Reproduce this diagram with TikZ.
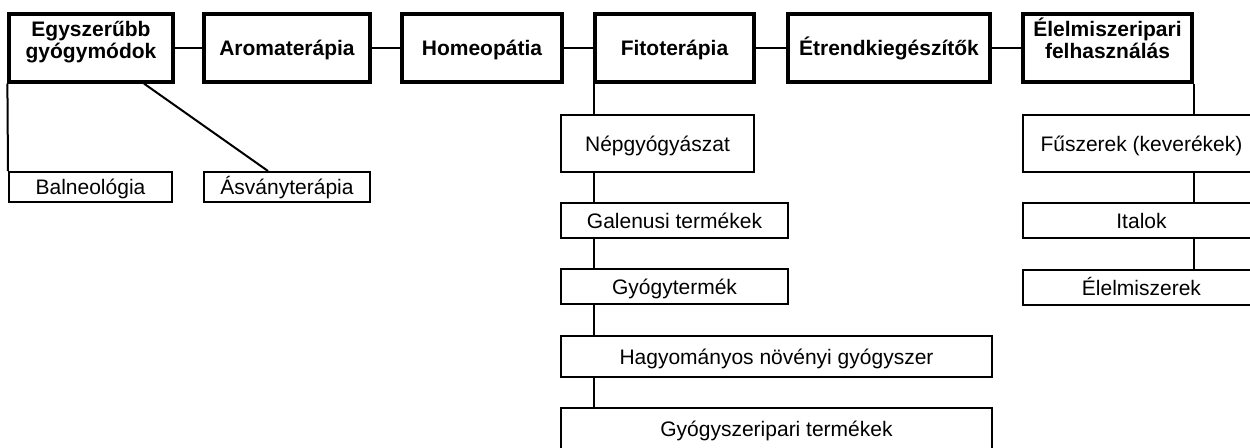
\documentclass[tikz,border=0pt]{standalone}
\usepackage{fontspec}
\setmainfont{Liberation Sans}
\usepackage{tikz}
\usetikzlibrary{positioning,calc}
\tikzset{>=latex}

\begin{document}
\begin{tikzpicture}[x=0.5pt, y=-0.5pt]
                        % fo = foelem (felso sor), al = alelem, ketsor = ket soros felirat
                        \tikzstyle{every node}=[draw=black, inner sep=0pt, align=center, text height=7.6pt, text depth=0pt, font=\fontsize{10.5}{12}\selectfont]
                        \tikzstyle{fo}=[line width=1.6pt, minimum height=34pt, font=\fontsize{10.5}{11}\selectfont\bfseries]
                        \tikzstyle{ketsor}=[text height=18.6pt, text depth=8.6pt]
                        \tikzstyle{al}=[line width=1pt]
                        \tikzstyle{every edge}=[black, line width=1pt, draw]
                        \useasboundingbox (0,0) rectangle (1250,447);
                        \clip (0,0) rectangle (1250,447);

                        \node[fo, ketsor, minimum width=82pt] (E) at (91,48) {Egyszerűbb\\gyógymódok};
                        \node[fo, minimum width=83pt] (A) at (287,48) {Aromaterápia};
                        \draw (E) edge (A);
                        \node[fo, minimum width=80pt] (H) at (482,48) {Homeopátia};
                        \draw (A) edge (H);
                        \node[fo, minimum width=79.5pt] (F) at (674.5,48) {Fitoterápia};
                        \draw (H) edge (F);
                        \node[fo, minimum width=101pt] (T) at (889,48) {Étrendkiegészítők};
                        \draw (F) edge (T);
                        \node[fo, ketsor, minimum width=84.5pt] (L) at (1107.5,48) {Élelmiszeripari\\felhasználás};
                        \draw (T) edge (L);

                        \node[al, minimum width=81.5pt, minimum height=15pt] (Bal) at (90.5,187) {Balneológia};
                        \draw (E.south west) edge (Bal.north west);
                        \node[al, minimum width=83pt, minimum height=15pt] (Asv) at (287,187) {Ásványterápia};
                        \draw ([xshift=26.5pt]E.south) edge ([xshift=-9.5pt]Asv.north);

                        \coordinate (fx) at ([xshift=0.5pt]F.south west);
                        \node[al, minimum width=96.5pt, minimum height=28.5pt] (Nep) at (657.5,143.5) {Népgyógyászat};
                        \draw (fx) edge (fx |- Nep.north);
                        \node[al, minimum width=113.5pt, minimum height=17.5pt] (Gal) at (674.5,220.5) {Galenusi termékek};
                        \draw (fx |- Nep.south) edge (fx |- Gal.north);
                        \node[al, minimum width=113.5pt, minimum height=17.5pt] (Gyt) at (674.5,286.5) {Gyógytermék};
                        \draw (fx |- Gal.south) edge (fx |- Gyt.north);
                        \node[al, minimum width=215.5pt, minimum height=20.5pt] (Hagy) at (776.5,356.5) {Hagyományos növényi gyógyszer};
                        \draw (fx |- Gyt.south) edge (fx |- Hagy.north);
                        \node[al, minimum width=215.5pt, minimum height=21pt] (Gysz) at (776.5,429) {Gyógyszeripari termékek};
                        \draw (fx |- Hagy.south) edge (fx |- Gysz.north);

                        \node[al, minimum width=118.5pt, minimum height=28.5pt] (Fusz) at (1141.5,143.5) {Fűszerek (keverékek)};
                        \draw (L.south east) edge (L.south east |- Fusz.north);
                        \node[al, minimum width=118.5pt, minimum height=17.5pt] (Ital) at (1141.5,220.5) {Italok};
                        \draw (L.south east |- Fusz.south) edge (L.south east |- Ital.north);
                        \node[al, minimum width=118.5pt, minimum height=17.5pt] (Elm) at (1141.5,287.5) {Élelmiszerek};
                        \draw (L.south east |- Ital.south) edge (L.south east |- Elm.north);
                \end{tikzpicture}
\end{document}
